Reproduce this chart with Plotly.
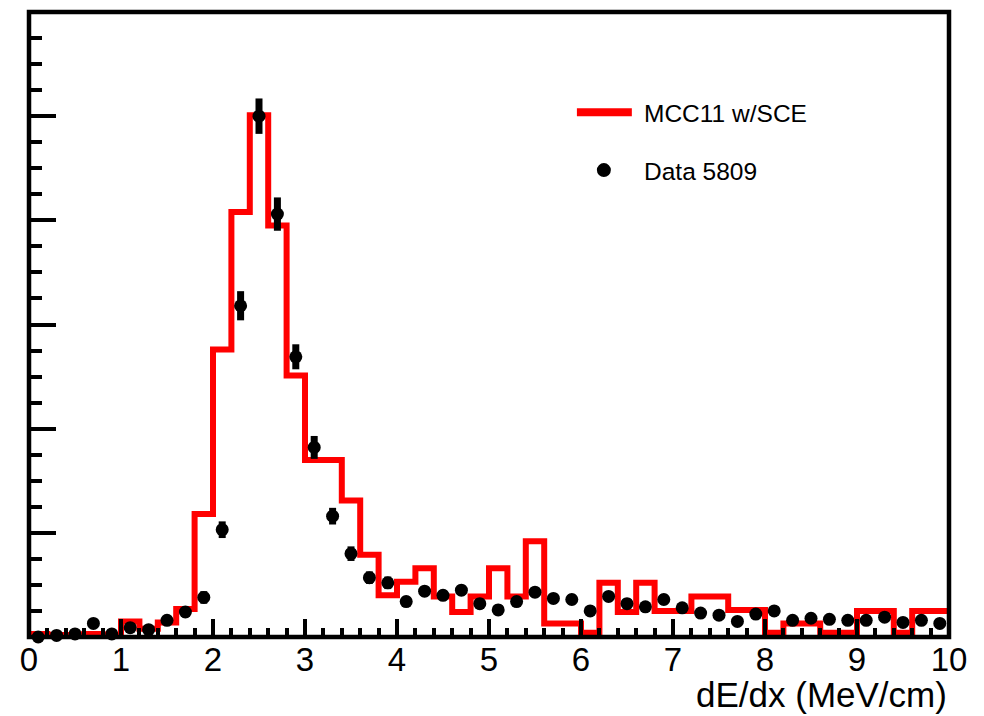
import plotly.graph_objects as go

# ---------------- data ----------------
bin_width = 0.2
bin_edges = [round(i * bin_width, 1) for i in range(51)]          # 0.0 ... 10.0
bin_centers = [round(e + bin_width / 2, 2) for e in bin_edges[:-1]]

# MC histogram (MCC11 w/SCE), normalised
mc_values = [
    0.0003, 0.0002, 0.0002, 0.0003, 0.0002,   # 0.0 - 1.0
    0.0015, 0.0008, 0.0014, 0.0027, 0.0118,   # 1.0 - 2.0
    0.0276, 0.0408, 0.0501, 0.0395, 0.0251,   # 2.0 - 3.0
    0.0170, 0.0170, 0.0131, 0.0079, 0.0040,   # 3.0 - 4.0
    0.0053, 0.0066, 0.0039, 0.0024, 0.0039,   # 4.0 - 5.0
    0.0066, 0.0039, 0.0092, 0.0013, 0.0013,   # 5.0 - 6.0
    0.0004, 0.0052, 0.0024, 0.0052, 0.0025,   # 6.0 - 7.0
    0.0025, 0.0039, 0.0039, 0.0026, 0.0026,   # 7.0 - 8.0
    0.0004, 0.0013, 0.0013, 0.0004, 0.0004,   # 8.0 - 9.0
    0.0025, 0.0025, 0.0004, 0.0025, 0.0025,   # 9.0 - 10.0
]

# Data 5809, normalised
data_values = [
    0.0000, 0.00015, 0.0003, 0.0013, 0.0003,
    0.0009, 0.0007, 0.0016, 0.0024, 0.0038,
    0.0103, 0.0318, 0.0500, 0.0406, 0.0269,
    0.0182, 0.0116, 0.0080, 0.0057, 0.0052,
    0.0034, 0.0044, 0.0040, 0.0045, 0.0032,
    0.0026, 0.0034, 0.0043, 0.0037, 0.0036,
    0.0025, 0.0039, 0.0032, 0.0029, 0.0036,
    0.0028, 0.0023, 0.0021, 0.0015, 0.0022,
    0.0025, 0.0016, 0.0018, 0.0017, 0.0016,
    0.0016, 0.0019, 0.0014, 0.0016, 0.0013,
]
data_errors = [
    0.0001, 0.0001, 0.0002, 0.0003, 0.0002,
    0.0003, 0.0003, 0.0004, 0.0005, 0.0006,
    0.0008, 0.0014, 0.0017, 0.0016, 0.0012,
    0.0011, 0.0008, 0.0007, 0.0006, 0.0006,
    0.0005, 0.0005, 0.0005, 0.0005, 0.0005,
    0.0005, 0.0005, 0.0005, 0.0005, 0.0005,
    0.0004, 0.0005, 0.0005, 0.0004, 0.0005,
    0.0004, 0.0004, 0.0004, 0.0004, 0.0004,
    0.0004, 0.0004, 0.0004, 0.0004, 0.0004,
    0.0004, 0.0004, 0.0004, 0.0004, 0.0004,
]

x_tick_vals = [0, 1, 2, 3, 4, 5, 6, 7, 8, 9, 10]
x_tick_text = ["0", "1", "2", "3", "4", "5", "6", "7", "8", "9", "10"]
x_title = "dE/dx (MeV/cm)"
mc_label = "MCC11 w/SCE"
data_label = "Data 5809"

# ---------------- figure ----------------
W, H = 984, 716
ML, MR, MT, MB = 28.5, 34.5, 11.7, 78.5
FONT = "Liberation Sans, Arial, Helvetica, sans-serif"
RED = "#ff0000"

fig = go.Figure()

fig.add_trace(go.Scatter(
    x=bin_edges,
    y=mc_values + [mc_values[-1]],
    mode="lines",
    line=dict(color=RED, width=6, shape="hv"),
    name=mc_label,
    showlegend=False,
    hoverinfo="skip",
))

fig.add_trace(go.Scatter(
    x=bin_centers,
    y=data_values,
    mode="markers",
    marker=dict(color="black", size=13, symbol="circle"),
    error_y=dict(type="data", array=data_errors, visible=True,
                 color="black", thickness=7, width=0),
    name=data_label,
    showlegend=False,
    cliponaxis=False,
))

fig.update_layout(
    width=W, height=H,
    margin=dict(l=ML, r=MR, t=MT, b=MB, pad=0),
    paper_bgcolor="white",
    plot_bgcolor="white",
    font=dict(family=FONT, color="black"),
    showlegend=False,
)

fig.update_xaxes(
    range=[0, 10],
    showgrid=False, zeroline=False, showline=False,
    tickmode="array", tickvals=x_tick_vals, ticktext=x_tick_text,
    ticks="inside", ticklen=18, tickwidth=4, tickcolor="black",
    tickfont=dict(size=33, family=FONT, color="black"),
    ticklabelstandoff=0,
    minor=dict(ticks="inside", ticklen=9, tickwidth=4, tickcolor="black",
               dtick=0.2, showgrid=False),
)

fig.update_yaxes(
    range=[0, 0.06],
    showgrid=False, zeroline=False, showline=False,
    showticklabels=False,
    tick0=0, dtick=0.01,
    ticks="inside", ticklen=27, tickwidth=4, tickcolor="black",
    minor=dict(ticks="inside", ticklen=13, tickwidth=4, tickcolor="black",
               dtick=0.0025, showgrid=False),
)

# frame
fig.add_shape(type="rect", xref="paper", yref="paper", x0=0, x1=1, y0=0, y1=1,
              line=dict(color="black", width=4.5), fillcolor="rgba(0,0,0,0)",
              layer="above")

plot_h = H - MT - MB
plot_w = W - ML - MR
def py2paper(py):
    return (H - MB - py) / plot_h
def px2paper(px):
    return (px - ML) / plot_w

# x-axis title (right aligned, ROOT style)
fig.add_annotation(
    text=x_title, xref="paper", yref="paper",
    x=px2paper(949), y=py2paper(695), xanchor="right", yanchor="middle",
    showarrow=False, font=dict(size=35, family=FONT, color="black"),
)

# legend (drawn manually, ROOT TLegend style)
fig.add_shape(type="line", xref="paper", yref="paper",
              x0=px2paper(577), x1=px2paper(632), y0=py2paper(112), y1=py2paper(112),
              line=dict(color=RED, width=8))
fig.add_annotation(
    text=mc_label, xref="paper", yref="paper",
    x=px2paper(642), y=py2paper(113), xanchor="left", yanchor="middle",
    showarrow=False, font=dict(size=24.5, family=FONT, color="black"),
)
r = 7
fig.add_shape(type="circle", xref="paper", yref="paper",
              x0=px2paper(604 - r), x1=px2paper(604 + r),
              y0=py2paper(170 + r), y1=py2paper(170 - r),
              line=dict(color="black", width=0), fillcolor="black")
fig.add_annotation(
    text=data_label, xref="paper", yref="paper",
    x=px2paper(642), y=py2paper(171), xanchor="left", yanchor="middle",
    showarrow=False, font=dict(size=24.5, family=FONT, color="black"),
)

fig.write_html("out.html")
